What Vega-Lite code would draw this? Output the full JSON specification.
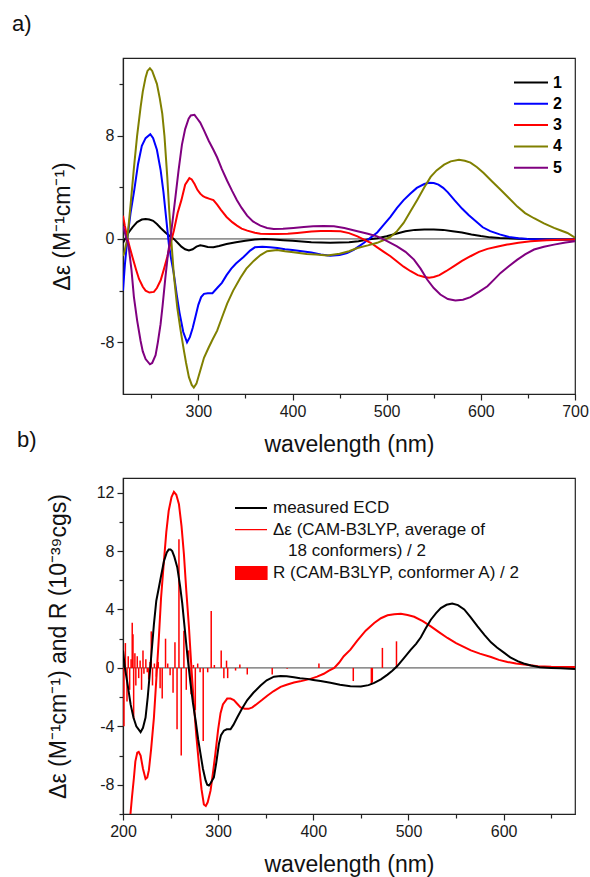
{
  "$schema": "https://vega.github.io/schema/vega-lite/v6.json",
  "padding": {"left": 11, "top": 12, "right": 0, "bottom": 0},
  "background": "white",
  "config": {
    "view": {"stroke": "#222", "strokeWidth": 1.2},
    "font": "Liberation Sans",
    "axis": {"grid": false, "domainColor": "#222", "domainWidth": 1.2, "tickColor": "#222", "tickWidth": 1.2, "labelFont": "Liberation Sans", "labelFontSize": 16, "labelColor": "#1a1a1a", "titleFont": "Liberation Sans", "titleFontSize": 23, "titleFontWeight": "normal", "titleColor": "#111", "labelFlush": false, "labelOverlap": false, "labelPadding": 3},
    "title": {"font": "Liberation Sans", "fontSize": 22, "fontWeight": "normal", "color": "#111"}
  },
  "datasets": {
    "a": [
      {"c":"1","wl":220,"v":-0.3},{"c":"1","wl":223,"v":0.1},{"c":"1","wl":226,"v":0.5},{"c":"1","wl":230,"v":0.9},{"c":"1","wl":235,"v":1.3},{"c":"1","wl":240,"v":1.5},{"c":"1","wl":244,"v":1.55},{"c":"1","wl":248,"v":1.5},{"c":"1","wl":252,"v":1.4},{"c":"1","wl":256,"v":1.15},{"c":"1","wl":260,"v":0.85},{"c":"1","wl":265,"v":0.5},{"c":"1","wl":270,"v":0.2},{"c":"1","wl":274,"v":0},{"c":"1","wl":278,"v":-0.3},{"c":"1","wl":282,"v":-0.6},{"c":"1","wl":286,"v":-0.8},{"c":"1","wl":290,"v":-0.9},{"c":"1","wl":294,"v":-0.8},{"c":"1","wl":298,"v":-0.6},{"c":"1","wl":302,"v":-0.5},{"c":"1","wl":306,"v":-0.55},{"c":"1","wl":310,"v":-0.62},{"c":"1","wl":316,"v":-0.65},{"c":"1","wl":322,"v":-0.55},{"c":"1","wl":330,"v":-0.4},{"c":"1","wl":340,"v":-0.25},{"c":"1","wl":350,"v":-0.15},{"c":"1","wl":360,"v":-0.05},{"c":"1","wl":370,"v":0},{"c":"1","wl":380,"v":-0.05},{"c":"1","wl":390,"v":-0.1},{"c":"1","wl":400,"v":-0.15},{"c":"1","wl":420,"v":-0.25},{"c":"1","wl":440,"v":-0.3},{"c":"1","wl":460,"v":-0.25},{"c":"1","wl":470,"v":-0.18},{"c":"1","wl":480,"v":-0.05},{"c":"1","wl":490,"v":0.05},{"c":"1","wl":500,"v":0.2},{"c":"1","wl":510,"v":0.4},{"c":"1","wl":520,"v":0.6},{"c":"1","wl":530,"v":0.7},{"c":"1","wl":540,"v":0.72},{"c":"1","wl":550,"v":0.73},{"c":"1","wl":560,"v":0.7},{"c":"1","wl":570,"v":0.6},{"c":"1","wl":580,"v":0.5},{"c":"1","wl":590,"v":0.35},{"c":"1","wl":600,"v":0.22},{"c":"1","wl":610,"v":0.12},{"c":"1","wl":620,"v":0.07},{"c":"1","wl":640,"v":0.02},{"c":"1","wl":660,"v":-0.02},{"c":"1","wl":680,"v":-0.04},{"c":"1","wl":700,"v":-0.05},
      {"c":"2","wl":220,"v":-4.0},{"c":"2","wl":222,"v":-2.0},{"c":"2","wl":224.6,"v":0},{"c":"2","wl":228,"v":2.0},{"c":"2","wl":232,"v":3.8},{"c":"2","wl":236,"v":5.8},{"c":"2","wl":240,"v":7.2},{"c":"2","wl":244,"v":7.8},{"c":"2","wl":249,"v":8.1},{"c":"2","wl":252,"v":7.8},{"c":"2","wl":256,"v":6.9},{"c":"2","wl":260,"v":5.3},{"c":"2","wl":263,"v":3.6},{"c":"2","wl":266,"v":1.5},{"c":"2","wl":268.7,"v":-0.4},{"c":"2","wl":271,"v":-1.5},{"c":"2","wl":274,"v":-2.7},{"c":"2","wl":277,"v":-4.3},{"c":"2","wl":280,"v":-5.7},{"c":"2","wl":284,"v":-7.2},{"c":"2","wl":288,"v":-8.0},{"c":"2","wl":291,"v":-7.6},{"c":"2","wl":294,"v":-6.9},{"c":"2","wl":297,"v":-6.0},{"c":"2","wl":300,"v":-5.1},{"c":"2","wl":303,"v":-4.5},{"c":"2","wl":306,"v":-4.25},{"c":"2","wl":310,"v":-4.2},{"c":"2","wl":315,"v":-4.2},{"c":"2","wl":320,"v":-3.8},{"c":"2","wl":325,"v":-3.4},{"c":"2","wl":330,"v":-2.8},{"c":"2","wl":335,"v":-2.3},{"c":"2","wl":340,"v":-1.9},{"c":"2","wl":348,"v":-1.4},{"c":"2","wl":355,"v":-0.9},{"c":"2","wl":360,"v":-0.65},{"c":"2","wl":368,"v":-0.6},{"c":"2","wl":376,"v":-0.65},{"c":"2","wl":384,"v":-0.7},{"c":"2","wl":392,"v":-0.8},{"c":"2","wl":400,"v":-0.85},{"c":"2","wl":410,"v":-0.95},{"c":"2","wl":420,"v":-1.05},{"c":"2","wl":430,"v":-1.2},{"c":"2","wl":440,"v":-1.3},{"c":"2","wl":450,"v":-1.25},{"c":"2","wl":458,"v":-1.1},{"c":"2","wl":465,"v":-0.85},{"c":"2","wl":470,"v":-0.6},{"c":"2","wl":476,"v":-0.3},{"c":"2","wl":483,"v":0.1},{"c":"2","wl":490,"v":0.5},{"c":"2","wl":497,"v":1.1},{"c":"2","wl":504,"v":1.7},{"c":"2","wl":511,"v":2.4},{"c":"2","wl":518,"v":3.0},{"c":"2","wl":525,"v":3.5},{"c":"2","wl":532,"v":3.95},{"c":"2","wl":540,"v":4.25},{"c":"2","wl":545,"v":4.35},{"c":"2","wl":550,"v":4.32},{"c":"2","wl":555,"v":4.2},{"c":"2","wl":560,"v":3.95},{"c":"2","wl":565,"v":3.6},{"c":"2","wl":572,"v":3.0},{"c":"2","wl":580,"v":2.35},{"c":"2","wl":587,"v":1.85},{"c":"2","wl":595,"v":1.35},{"c":"2","wl":602,"v":0.9},{"c":"2","wl":610,"v":0.6},{"c":"2","wl":620,"v":0.35},{"c":"2","wl":630,"v":0.15},{"c":"2","wl":640,"v":0.05},{"c":"2","wl":650,"v":0},{"c":"2","wl":670,"v":-0.05},{"c":"2","wl":700,"v":-0.05},
      {"c":"3","wl":220,"v":1.8},{"c":"3","wl":222,"v":1.0},{"c":"3","wl":224.6,"v":0.1},{"c":"3","wl":227,"v":-0.6},{"c":"3","wl":230,"v":-1.4},{"c":"3","wl":234,"v":-2.4},{"c":"3","wl":237,"v":-3.1},{"c":"3","wl":241,"v":-3.7},{"c":"3","wl":244,"v":-4.0},{"c":"3","wl":248,"v":-4.15},{"c":"3","wl":252.8,"v":-4.1},{"c":"3","wl":256,"v":-3.8},{"c":"3","wl":260,"v":-3.2},{"c":"3","wl":264,"v":-2.2},{"c":"3","wl":267,"v":-1.4},{"c":"3","wl":270,"v":-0.5},{"c":"3","wl":274,"v":0.64},{"c":"3","wl":278,"v":2.0},{"c":"3","wl":282,"v":3.0},{"c":"3","wl":286,"v":4.2},{"c":"3","wl":290.5,"v":4.7},{"c":"3","wl":293,"v":4.6},{"c":"3","wl":296,"v":4.25},{"c":"3","wl":299,"v":3.8},{"c":"3","wl":302,"v":3.5},{"c":"3","wl":305,"v":3.3},{"c":"3","wl":308,"v":3.2},{"c":"3","wl":312,"v":3.1},{"c":"3","wl":316,"v":3.0},{"c":"3","wl":320,"v":2.65},{"c":"3","wl":324,"v":2.25},{"c":"3","wl":330,"v":1.7},{"c":"3","wl":336,"v":1.3},{"c":"3","wl":341,"v":1.03},{"c":"3","wl":346,"v":0.8},{"c":"3","wl":352,"v":0.64},{"c":"3","wl":360,"v":0.48},{"c":"3","wl":366,"v":0.4},{"c":"3","wl":376,"v":0.38},{"c":"3","wl":384,"v":0.39},{"c":"3","wl":395,"v":0.4},{"c":"3","wl":405,"v":0.46},{"c":"3","wl":420,"v":0.57},{"c":"3","wl":430,"v":0.62},{"c":"3","wl":440,"v":0.62},{"c":"3","wl":451,"v":0.6},{"c":"3","wl":460,"v":0.45},{"c":"3","wl":469,"v":0.2},{"c":"3","wl":476,"v":-0.05},{"c":"3","wl":483,"v":-0.3},{"c":"3","wl":490,"v":-0.65},{"c":"3","wl":497,"v":-1.0},{"c":"3","wl":504,"v":-1.34},{"c":"3","wl":511,"v":-1.75},{"c":"3","wl":518,"v":-2.15},{"c":"3","wl":525.5,"v":-2.5},{"c":"3","wl":533,"v":-2.8},{"c":"3","wl":540,"v":-2.95},{"c":"3","wl":545,"v":-3.0},{"c":"3","wl":550,"v":-2.95},{"c":"3","wl":556,"v":-2.8},{"c":"3","wl":563,"v":-2.5},{"c":"3","wl":571.5,"v":-2.1},{"c":"3","wl":580,"v":-1.7},{"c":"3","wl":589,"v":-1.34},{"c":"3","wl":598,"v":-1.0},{"c":"3","wl":607,"v":-0.77},{"c":"3","wl":617,"v":-0.6},{"c":"3","wl":628,"v":-0.44},{"c":"3","wl":640,"v":-0.3},{"c":"3","wl":653,"v":-0.18},{"c":"3","wl":670,"v":-0.1},{"c":"3","wl":685,"v":-0.06},{"c":"3","wl":700,"v":-0.05},
      {"c":"4","wl":220,"v":-1.3},{"c":"4","wl":221,"v":-1.16},{"c":"4","wl":224.6,"v":0},{"c":"4","wl":228,"v":2.6},{"c":"4","wl":231.6,"v":5.5},{"c":"4","wl":235,"v":8.0},{"c":"4","wl":238.7,"v":10.2},{"c":"4","wl":241,"v":11.4},{"c":"4","wl":244,"v":12.5},{"c":"4","wl":246,"v":13.0},{"c":"4","wl":248.6,"v":13.2},{"c":"4","wl":251,"v":13.0},{"c":"4","wl":253,"v":12.6},{"c":"4","wl":256,"v":12.0},{"c":"4","wl":259,"v":10.9},{"c":"4","wl":261.7,"v":9.7},{"c":"4","wl":264,"v":8.0},{"c":"4","wl":267,"v":4.8},{"c":"4","wl":269,"v":2.3},{"c":"4","wl":271,"v":0.2},{"c":"4","wl":274,"v":-2.8},{"c":"4","wl":277.6,"v":-5.3},{"c":"4","wl":281,"v":-7.0},{"c":"4","wl":284.6,"v":-8.6},{"c":"4","wl":287,"v":-9.6},{"c":"4","wl":290,"v":-10.7},{"c":"4","wl":293,"v":-11.3},{"c":"4","wl":295.2,"v":-11.5},{"c":"4","wl":298,"v":-11.2},{"c":"4","wl":302,"v":-10.2},{"c":"4","wl":306,"v":-9.2},{"c":"4","wl":311,"v":-8.4},{"c":"4","wl":315,"v":-7.8},{"c":"4","wl":320,"v":-7.1},{"c":"4","wl":325,"v":-6.1},{"c":"4","wl":330.6,"v":-5.0},{"c":"4","wl":337,"v":-4.0},{"c":"4","wl":344.7,"v":-3.0},{"c":"4","wl":351,"v":-2.3},{"c":"4","wl":358.8,"v":-1.7},{"c":"4","wl":366,"v":-1.25},{"c":"4","wl":373,"v":-0.95},{"c":"4","wl":383.6,"v":-0.85},{"c":"4","wl":392,"v":-0.95},{"c":"4","wl":401,"v":-1.03},{"c":"4","wl":415,"v":-1.16},{"c":"4","wl":425,"v":-1.2},{"c":"4","wl":437,"v":-1.29},{"c":"4","wl":450,"v":-1.15},{"c":"4","wl":460,"v":-0.95},{"c":"4","wl":469,"v":-0.7},{"c":"4","wl":480,"v":-0.5},{"c":"4","wl":490,"v":-0.3},{"c":"4","wl":497,"v":-0.08},{"c":"4","wl":504,"v":0.15},{"c":"4","wl":511,"v":0.6},{"c":"4","wl":518,"v":1.24},{"c":"4","wl":525,"v":2.1},{"c":"4","wl":532.6,"v":3.04},{"c":"4","wl":540,"v":4.0},{"c":"4","wl":546.7,"v":4.8},{"c":"4","wl":553,"v":5.3},{"c":"4","wl":561,"v":5.75},{"c":"4","wl":568,"v":6.0},{"c":"4","wl":576.8,"v":6.13},{"c":"4","wl":583,"v":6.05},{"c":"4","wl":589,"v":5.9},{"c":"4","wl":596,"v":5.55},{"c":"4","wl":603,"v":5.1},{"c":"4","wl":612,"v":4.45},{"c":"4","wl":621,"v":3.8},{"c":"4","wl":630,"v":3.15},{"c":"4","wl":638.8,"v":2.5},{"c":"4","wl":647,"v":2.0},{"c":"4","wl":656.5,"v":1.6},{"c":"4","wl":667,"v":1.2},{"c":"4","wl":677.7,"v":0.85},{"c":"4","wl":685,"v":0.65},{"c":"4","wl":692,"v":0.46},{"c":"4","wl":700,"v":0.1},
      {"c":"5","wl":220,"v":1.0},{"c":"5","wl":223,"v":0.2},{"c":"5","wl":226,"v":-0.6},{"c":"5","wl":229,"v":-2.4},{"c":"5","wl":231.6,"v":-4.5},{"c":"5","wl":235,"v":-6.3},{"c":"5","wl":238.7,"v":-7.9},{"c":"5","wl":241,"v":-8.7},{"c":"5","wl":244,"v":-9.3},{"c":"5","wl":248.6,"v":-9.7},{"c":"5","wl":251,"v":-9.6},{"c":"5","wl":254.6,"v":-9.0},{"c":"5","wl":257,"v":-8.0},{"c":"5","wl":259.9,"v":-6.6},{"c":"5","wl":262,"v":-5.2},{"c":"5","wl":265,"v":-3.0},{"c":"5","wl":268,"v":-1.0},{"c":"5","wl":270.3,"v":0},{"c":"5","wl":273,"v":1.6},{"c":"5","wl":275.6,"v":3.2},{"c":"5","wl":279,"v":5.3},{"c":"5","wl":282.6,"v":7.3},{"c":"5","wl":286,"v":8.5},{"c":"5","wl":289.7,"v":9.3},{"c":"5","wl":292,"v":9.55},{"c":"5","wl":295.9,"v":9.6},{"c":"5","wl":299,"v":9.3},{"c":"5","wl":302,"v":9.0},{"c":"5","wl":306,"v":8.4},{"c":"5","wl":311,"v":7.6},{"c":"5","wl":316,"v":6.9},{"c":"5","wl":320,"v":6.3},{"c":"5","wl":325,"v":5.4},{"c":"5","wl":330.6,"v":4.5},{"c":"5","wl":336,"v":3.7},{"c":"5","wl":341,"v":3.0},{"c":"5","wl":346,"v":2.4},{"c":"5","wl":351.8,"v":1.8},{"c":"5","wl":358,"v":1.35},{"c":"5","wl":365.9,"v":1.03},{"c":"5","wl":373,"v":0.85},{"c":"5","wl":380,"v":0.77},{"c":"5","wl":390,"v":0.78},{"c":"5","wl":401,"v":0.85},{"c":"5","wl":412,"v":0.92},{"c":"5","wl":422,"v":0.98},{"c":"5","wl":433,"v":1.0},{"c":"5","wl":444,"v":0.98},{"c":"5","wl":455,"v":0.85},{"c":"5","wl":469,"v":0.6},{"c":"5","wl":480,"v":0.4},{"c":"5","wl":490,"v":0.2},{"c":"5","wl":500,"v":-0.15},{"c":"5","wl":511,"v":-0.57},{"c":"5","wl":520,"v":-1.0},{"c":"5","wl":529,"v":-1.6},{"c":"5","wl":536,"v":-2.3},{"c":"5","wl":543,"v":-3.14},{"c":"5","wl":550,"v":-3.8},{"c":"5","wl":557,"v":-4.3},{"c":"5","wl":565,"v":-4.65},{"c":"5","wl":573,"v":-4.77},{"c":"5","wl":581,"v":-4.7},{"c":"5","wl":589,"v":-4.5},{"c":"5","wl":598,"v":-4.1},{"c":"5","wl":607,"v":-3.66},{"c":"5","wl":614,"v":-3.15},{"c":"5","wl":621,"v":-2.63},{"c":"5","wl":630,"v":-2.1},{"c":"5","wl":638.8,"v":-1.6},{"c":"5","wl":647,"v":-1.2},{"c":"5","wl":656.5,"v":-0.82},{"c":"5","wl":667,"v":-0.6},{"c":"5","wl":677.7,"v":-0.44},{"c":"5","wl":690,"v":-0.28},{"c":"5","wl":700,"v":-0.18}
    ],
    "b": [
      {"s":"calc","wl":204,"v":-14},{"s":"calc","wl":207.7,"v":-10.1},{"s":"calc","wl":209.5,"v":-8.8},{"s":"calc","wl":211.5,"v":-7.5},{"s":"calc","wl":213,"v":-6.4},{"s":"calc","wl":215,"v":-5.8},{"s":"calc","wl":216.5,"v":-5.75},{"s":"calc","wl":218.5,"v":-6.0},{"s":"calc","wl":221,"v":-6.9},{"s":"calc","wl":223.7,"v":-7.6},{"s":"calc","wl":225.5,"v":-7.5},{"s":"calc","wl":227.2,"v":-7.0},{"s":"calc","wl":229.5,"v":-5.6},{"s":"calc","wl":232.5,"v":-3.4},{"s":"calc","wl":235,"v":-0.8},{"s":"calc","wl":237.7,"v":2.1},{"s":"calc","wl":240,"v":4.8},{"s":"calc","wl":243,"v":7.3},{"s":"calc","wl":245.5,"v":9.3},{"s":"calc","wl":248,"v":10.75},{"s":"calc","wl":251,"v":11.7},{"s":"calc","wl":253.5,"v":12.05},{"s":"calc","wl":256,"v":11.85},{"s":"calc","wl":258.8,"v":11.2},{"s":"calc","wl":261.5,"v":9.7},{"s":"calc","wl":264,"v":7.8},{"s":"calc","wl":266.5,"v":5.3},{"s":"calc","wl":269.3,"v":2.8},{"s":"calc","wl":272,"v":-0.1},{"s":"calc","wl":274.5,"v":-2.5},{"s":"calc","wl":277,"v":-4.6},{"s":"calc","wl":279.8,"v":-6.6},{"s":"calc","wl":282.5,"v":-8.3},{"s":"calc","wl":285,"v":-9.35},{"s":"calc","wl":287,"v":-9.45},{"s":"calc","wl":289,"v":-9.2},{"s":"calc","wl":292,"v":-8.4},{"s":"calc","wl":294.5,"v":-7.2},{"s":"calc","wl":297,"v":-5.9},{"s":"calc","wl":300,"v":-4.2},{"s":"calc","wl":302.5,"v":-3.1},{"s":"calc","wl":305,"v":-2.5},{"s":"calc","wl":309.5,"v":-2.1},{"s":"calc","wl":313,"v":-2.1},{"s":"calc","wl":316.5,"v":-2.2},{"s":"calc","wl":320,"v":-2.45},{"s":"calc","wl":323.5,"v":-2.7},{"s":"calc","wl":328,"v":-2.8},{"s":"calc","wl":332,"v":-2.8},{"s":"calc","wl":336,"v":-2.7},{"s":"calc","wl":341,"v":-2.45},{"s":"calc","wl":346,"v":-2.2},{"s":"calc","wl":351.6,"v":-1.9},{"s":"calc","wl":358,"v":-1.6},{"s":"calc","wl":365.6,"v":-1.3},{"s":"calc","wl":372,"v":-1.15},{"s":"calc","wl":379.6,"v":-1.0},{"s":"calc","wl":386,"v":-0.92},{"s":"calc","wl":393.6,"v":-0.8},{"s":"calc","wl":397,"v":-0.75},{"s":"calc","wl":404,"v":-0.6},{"s":"calc","wl":411,"v":-0.4},{"s":"calc","wl":416,"v":-0.2},{"s":"calc","wl":422,"v":0},{"s":"calc","wl":427,"v":0.35},{"s":"calc","wl":432,"v":0.8},{"s":"calc","wl":439,"v":1.25},{"s":"calc","wl":446,"v":1.85},{"s":"calc","wl":455,"v":2.55},{"s":"calc","wl":464,"v":3.07},{"s":"calc","wl":471,"v":3.4},{"s":"calc","wl":478,"v":3.6},{"s":"calc","wl":485,"v":3.68},{"s":"calc","wl":492,"v":3.7},{"s":"calc","wl":499,"v":3.62},{"s":"calc","wl":506,"v":3.5},{"s":"calc","wl":515,"v":3.2},{"s":"calc","wl":523.5,"v":2.84},{"s":"calc","wl":532,"v":2.45},{"s":"calc","wl":541,"v":2.05},{"s":"calc","wl":550,"v":1.7},{"s":"calc","wl":558.6,"v":1.42},{"s":"calc","wl":565.6,"v":1.2},{"s":"calc","wl":575,"v":0.98},{"s":"calc","wl":586.7,"v":0.75},{"s":"calc","wl":595,"v":0.55},{"s":"calc","wl":604,"v":0.41},{"s":"calc","wl":613,"v":0.3},{"s":"calc","wl":621.8,"v":0.23},{"s":"calc","wl":636,"v":0.12},{"s":"calc","wl":650,"v":0.08},{"s":"calc","wl":675,"v":0.06},
      {"s":"meas","wl":200,"v":1.2},{"s":"meas","wl":202,"v":0.0},{"s":"meas","wl":205,"v":-1.2},{"s":"meas","wl":208,"v":-2.5},{"s":"meas","wl":211,"v":-3.4},{"s":"meas","wl":214,"v":-4.0},{"s":"meas","wl":218.5,"v":-4.4},{"s":"meas","wl":221,"v":-4.1},{"s":"meas","wl":223.7,"v":-3.4},{"s":"meas","wl":226,"v":-2.0},{"s":"meas","wl":229,"v":0.27},{"s":"meas","wl":232.5,"v":3.0},{"s":"meas","wl":235,"v":4.6},{"s":"meas","wl":237.7,"v":5.5},{"s":"meas","wl":240,"v":6.3},{"s":"meas","wl":243,"v":7.3},{"s":"meas","wl":246,"v":7.9},{"s":"meas","wl":248,"v":8.1},{"s":"meas","wl":250,"v":8.1},{"s":"meas","wl":251.7,"v":8.0},{"s":"meas","wl":254,"v":7.6},{"s":"meas","wl":257,"v":6.9},{"s":"meas","wl":260,"v":5.6},{"s":"meas","wl":262.3,"v":4.4},{"s":"meas","wl":265,"v":2.6},{"s":"meas","wl":267.5,"v":0.96},{"s":"meas","wl":271,"v":-1.1},{"s":"meas","wl":273.5,"v":-2.4},{"s":"meas","wl":276.3,"v":-3.6},{"s":"meas","wl":279,"v":-4.9},{"s":"meas","wl":281.5,"v":-5.9},{"s":"meas","wl":284,"v":-6.9},{"s":"meas","wl":286.8,"v":-7.7},{"s":"meas","wl":288.5,"v":-8.0},{"s":"meas","wl":290.3,"v":-8.05},{"s":"meas","wl":292,"v":-7.9},{"s":"meas","wl":295.5,"v":-7.5},{"s":"meas","wl":298,"v":-6.5},{"s":"meas","wl":300.8,"v":-5.2},{"s":"meas","wl":303,"v":-4.6},{"s":"meas","wl":306,"v":-4.3},{"s":"meas","wl":309,"v":-4.2},{"s":"meas","wl":313,"v":-4.2},{"s":"meas","wl":316,"v":-3.9},{"s":"meas","wl":320,"v":-3.4},{"s":"meas","wl":325,"v":-2.8},{"s":"meas","wl":330.6,"v":-2.2},{"s":"meas","wl":337,"v":-1.7},{"s":"meas","wl":344.6,"v":-1.2},{"s":"meas","wl":351,"v":-0.85},{"s":"meas","wl":358.6,"v":-0.6},{"s":"meas","wl":365.6,"v":-0.55},{"s":"meas","wl":372,"v":-0.57},{"s":"meas","wl":379.6,"v":-0.64},{"s":"meas","wl":386,"v":-0.7},{"s":"meas","wl":393.6,"v":-0.75},{"s":"meas","wl":400,"v":-0.82},{"s":"meas","wl":407.6,"v":-0.9},{"s":"meas","wl":418,"v":-1.02},{"s":"meas","wl":428,"v":-1.15},{"s":"meas","wl":439,"v":-1.25},{"s":"meas","wl":450,"v":-1.27},{"s":"meas","wl":458,"v":-1.18},{"s":"meas","wl":464,"v":-1.02},{"s":"meas","wl":471,"v":-0.78},{"s":"meas","wl":478,"v":-0.46},{"s":"meas","wl":483,"v":-0.2},{"s":"meas","wl":488,"v":0.11},{"s":"meas","wl":495,"v":0.65},{"s":"meas","wl":502.5,"v":1.25},{"s":"meas","wl":508,"v":1.65},{"s":"meas","wl":513,"v":2.1},{"s":"meas","wl":518,"v":2.7},{"s":"meas","wl":523.5,"v":3.3},{"s":"meas","wl":529,"v":3.75},{"s":"meas","wl":534,"v":4.1},{"s":"meas","wl":540,"v":4.32},{"s":"meas","wl":546,"v":4.4},{"s":"meas","wl":552,"v":4.3},{"s":"meas","wl":558.6,"v":4.0},{"s":"meas","wl":565,"v":3.5},{"s":"meas","wl":572.6,"v":2.84},{"s":"meas","wl":580,"v":2.25},{"s":"meas","wl":586.7,"v":1.75},{"s":"meas","wl":593,"v":1.4},{"s":"meas","wl":600.7,"v":1.03},{"s":"meas","wl":607,"v":0.72},{"s":"meas","wl":614.7,"v":0.46},{"s":"meas","wl":621,"v":0.3},{"s":"meas","wl":628.8,"v":0.16},{"s":"meas","wl":638,"v":0.05},{"s":"meas","wl":650,"v":0},{"s":"meas","wl":660,"v":-0.03},{"s":"meas","wl":675,"v":-0.07}
    ],
    "sticks": [
      {"s":"R","wl":201.0,"R":-4.0},{"s":"R","wl":202.5,"R":1.7},{"s":"R","wl":204.2,"R":-2.3},{"s":"R","wl":205.5,"R":0.8},{"s":"R","wl":207.0,"R":-1.5},{"s":"R","wl":208.5,"R":0.6},{"s":"R","wl":209.7,"R":3.1},{"s":"R","wl":210.5,"R":2.3},{"s":"R","wl":211.2,"R":-3.5},{"s":"R","wl":212.5,"R":1.0},{"s":"R","wl":213.5,"R":-1.2},{"s":"R","wl":215.0,"R":0.8},{"s":"R","wl":216.5,"R":-0.7},{"s":"R","wl":218.0,"R":0.5},{"s":"R","wl":219.5,"R":-1.5},{"s":"R","wl":221.0,"R":1.2},{"s":"R","wl":222.0,"R":-0.4},{"s":"R","wl":224.0,"R":0.6},{"s":"R","wl":225.5,"R":-0.3},{"s":"R","wl":227.0,"R":-0.8},{"s":"R","wl":228.5,"R":0.4},{"s":"R","wl":229.7,"R":2.5},{"s":"R","wl":231.0,"R":-1.2},{"s":"R","wl":233.0,"R":0.3},{"s":"R","wl":235.0,"R":-0.6},{"s":"R","wl":237.0,"R":0.4},{"s":"R","wl":239.0,"R":-1.4},{"s":"R","wl":241.2,"R":-2.1},{"s":"R","wl":244.7,"R":2.0},{"s":"R","wl":247.0,"R":0.3},{"s":"R","wl":249.5,"R":-0.5},{"s":"R","wl":252.6,"R":-1.7},{"s":"R","wl":254.6,"R":1.75},{"s":"R","wl":256.8,"R":-4.2},{"s":"R","wl":258.8,"R":8.8},{"s":"R","wl":261.2,"R":-6.0},{"s":"R","wl":264.0,"R":2.55},{"s":"R","wl":266.5,"R":-1.5},{"s":"R","wl":269.0,"R":1.2},{"s":"R","wl":271.5,"R":-1.8},{"s":"R","wl":274.0,"R":0.2},{"s":"R","wl":276.0,"R":-2.9},{"s":"R","wl":278.5,"R":0.3},{"s":"R","wl":281.0,"R":-0.3},{"s":"R","wl":284.3,"R":-5.0},{"s":"R","wl":289.0,"R":-0.3},{"s":"R","wl":292.7,"R":3.9},{"s":"R","wl":296.0,"R":0.2},{"s":"R","wl":303.2,"R":1.2},{"s":"R","wl":306.0,"R":-0.7},{"s":"R","wl":308.8,"R":0.5},{"s":"R","wl":310.0,"R":-0.7},{"s":"R","wl":318.3,"R":-0.18},{"s":"R","wl":322.8,"R":0.23},{"s":"R","wl":330.6,"R":-0.45},{"s":"R","wl":356.8,"R":-0.45},{"s":"R","wl":372.5,"R":-0.05},{"s":"R","wl":405.9,"R":0.3},{"s":"R","wl":442.0,"R":-0.9},{"s":"R","wl":461.0,"R":-1.14},{"s":"R","wl":462.0,"R":-1.0},{"s":"R","wl":472.6,"R":1.37},{"s":"R","wl":487.4,"R":1.82}
    ]
  },
  "bounds": "flush",
  "spacing": 84,
  "resolve": {"scale": {"color": "independent", "x": "independent", "y": "independent"}, "legend": {"color": "independent"}},
  "vconcat": [
    {
      "width": 452,
      "height": 336,
      "title": {"text": "a)", "anchor": "start", "frame": "group", "dx": -111, "offset": 5, "baseline": "alphabetic", "fontSize": 22},
      "layer": [
        {
          "data": {"values": [{}]},
          "mark": {"type": "rule", "color": "#444", "strokeWidth": 1},
          "encoding": {"y": {"datum": 0, "type": "quantitative", "title": "Δε (M⁻¹cm⁻¹)"}}
        },
        {
          "data": {"name": "a"},
          "mark": {"type": "line", "strokeWidth": 2, "clip": true},
          "encoding": {
            "x": {"field": "wl", "type": "quantitative", "scale": {"domain": [220, 700], "nice": false, "zero": false},
              "axis": {"values": [250,300,350,400,450,500,550,600,650,700], "labelExpr": "datum.value % 100 === 0 ? datum.label : ''", "tickSize": {"condition": {"test": "datum.value % 100 !== 0", "value": 4}, "value": 6}, "title": "wavelength (nm)", "titlePadding": 14}},
            "y": {"field": "v", "type": "quantitative", "scale": {"domain": [-12, 14], "nice": false, "zero": false},
              "axis": {"values": [-8,-4,0,4,8,12], "labelExpr": "datum.value % 8 === 0 ? '' + datum.value : ''", "tickSize": {"condition": {"test": "datum.value % 8 !== 0", "value": 4}, "value": 6}, "title": "Δε (M⁻¹cm⁻¹)", "titlePadding": 25}},
            "color": {"field": "c", "type": "nominal", "scale": {"domain": ["1","2","3","4","5"], "range": ["#000000","#0000ff","#ff0000","#808000","#800080"]},
              "legend": {"title": null, "orient": "none", "legendX": 390, "legendY": 15, "symbolType": "stroke", "symbolSize": 1156, "symbolStrokeWidth": 2, "clipHeight": 19, "rowPadding": 2.3, "labelFont": "Liberation Sans", "labelFontSize": 16, "labelFontWeight": "bold", "labelColor": "#000", "labelOffset": 4}}
          }
        }
      ]
    },
    {
      "width": 452,
      "height": 336,
      "title": {"text": "b)", "anchor": "start", "frame": "group", "dx": -106, "offset": 9, "baseline": "alphabetic", "fontSize": 22},
      "layer": [
        {
          "data": {"values": [{}]},
          "mark": {"type": "rule", "color": "#444", "strokeWidth": 1},
          "encoding": {"y": {"datum": 0, "type": "quantitative",
            "axis": {"values": [-10,-8,-6,-4,-2,0,2,4,6,8,10,12], "labelExpr": "datum.value % 4 === 0 ? '' + datum.value : ''", "tickSize": {"condition": {"test": "datum.value % 4 !== 0", "value": 4}, "value": 6}, "title": "Δε (M⁻¹cm⁻¹) and R (10⁻³⁹cgs)", "titlePadding": 26}}}
        },
        {
          "data": {"name": "sticks"},
          "mark": {"type": "rule", "strokeWidth": 1.5, "clip": true},
          "encoding": {
            "x": {"field": "wl", "type": "quantitative",
              "axis": {"values": [200,250,300,350,400,450,500,550,600,650], "labelExpr": "datum.value % 100 === 0 ? datum.label : ''", "tickSize": {"condition": {"test": "datum.value % 100 !== 0", "value": 4}, "value": 6}, "title": "wavelength (nm)", "titlePadding": 14}},
            "y": {"field": "R", "type": "quantitative",
              "axis": {"values": [-10,-8,-6,-4,-2,0,2,4,6,8,10,12], "labelExpr": "datum.value % 4 === 0 ? '' + datum.value : ''", "tickSize": {"condition": {"test": "datum.value % 4 !== 0", "value": 4}, "value": 6}, "title": "Δε (M⁻¹cm⁻¹) and R (10⁻³⁹cgs)", "titlePadding": 26}},
            "y2": {"datum": 0},
            "color": {"field": "s", "type": "nominal"}
          }
        },
        {
          "data": {"name": "b"},
          "mark": {"type": "line", "strokeWidth": 2, "clip": true},
          "encoding": {
            "x": {"field": "wl", "type": "quantitative", "scale": {"domain": [200, 675], "nice": false, "zero": false},
              "axis": {"values": [200,250,300,350,400,450,500,550,600,650], "labelExpr": "datum.value % 100 === 0 ? datum.label : ''", "tickSize": {"condition": {"test": "datum.value % 100 !== 0", "value": 4}, "value": 6}, "title": "wavelength (nm)", "titlePadding": 14}},
            "y": {"field": "v", "type": "quantitative", "scale": {"domain": [-10, 13], "nice": false, "zero": false},
              "axis": {"values": [-10,-8,-6,-4,-2,0,2,4,6,8,10,12], "labelExpr": "datum.value % 4 === 0 ? '' + datum.value : ''", "tickSize": {"condition": {"test": "datum.value % 4 !== 0", "value": 4}, "value": 6}, "title": "Δε (M⁻¹cm⁻¹) and R (10⁻³⁹cgs)", "titlePadding": 26}},
            "color": {"field": "s", "type": "nominal", "scale": {"domain": ["meas","calc","calc2","R"], "range": ["#000000","#ff0000","transparent","#ff0000"]},
              "legend": {"title": null, "orient": "none", "legendX": 112, "legendY": 20, "symbolType": "stroke", "symbolSize": 1024, "clipHeight": 20, "rowPadding": 1.7, "labelFont": "Liberation Sans", "labelFontSize": 17, "labelColor": "#111", "labelOffset": 6, "labelLimit": 400,
                "labelExpr": "datum.value === 'meas' ? 'measured ECD' : datum.value === 'calc' ? 'Δε (CAM-B3LYP, average of' : datum.value === 'calc2' ? '18 conformers) / 2' : 'R (CAM-B3LYP, conformer A) / 2'",
                "encode": {
                  "symbols": {"update": {
                    "shape": {"signal": "datum.value === 'R' ? 'M-1,-0.4H1V0.4H-1Z' : 'stroke'"},
                    "fill": {"signal": "datum.value === 'R' ? '#ff0000' : 'transparent'"},
                    "stroke": {"signal": "datum.value === 'meas' ? '#000000' : datum.value === 'calc' ? '#ff0000' : 'transparent'"},
                    "strokeWidth": {"signal": "datum.value === 'meas' ? 2 : 1.2"},
                    "size": {"value": 1024},
                    "x": {"value": 16},
                    "opacity": {"value": 1}
                  }},
                  "labels": {"update": {
                    "x": {"value": 38},
                    "dx": {"signal": "datum.value === 'calc2' ? 15 : 0"}
                  }}
                }}}
          }
        }
      ]
    }
  ]
}
